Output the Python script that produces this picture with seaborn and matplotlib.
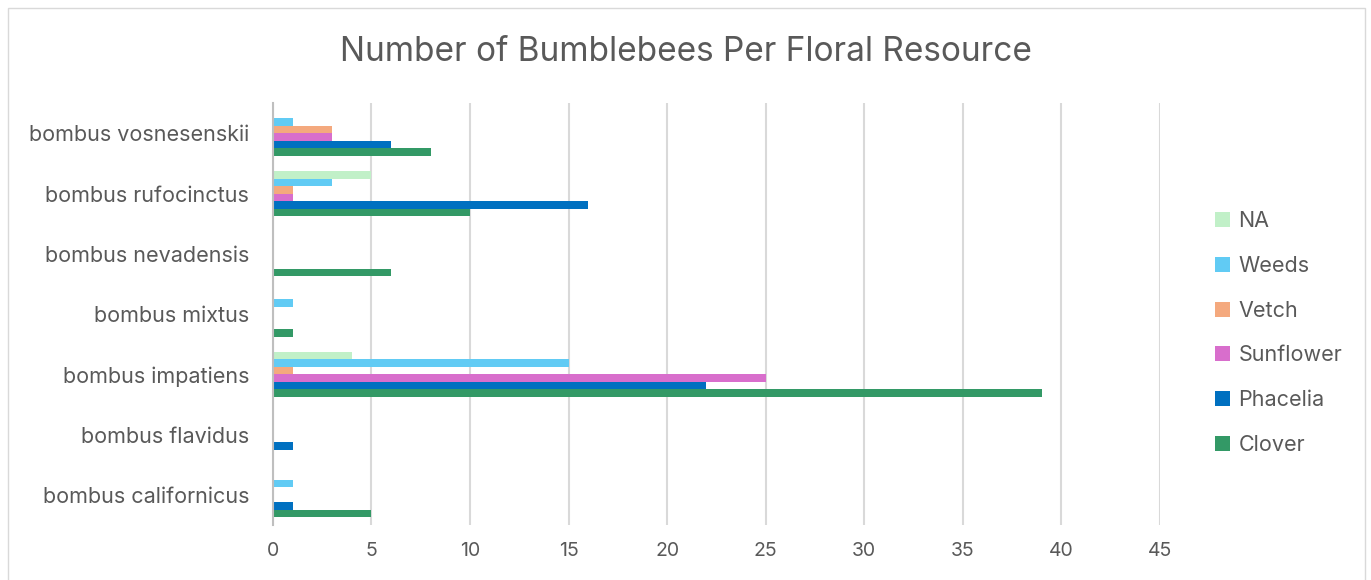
import numpy as np
import pandas as pd
import seaborn as sns
import matplotlib.pyplot as plt
from matplotlib.patches import Rectangle

# data (top category first)
species = ['bombus vosnesenskii', 'bombus rufocinctus', 'bombus nevadensis',
           'bombus mixtus', 'bombus impatiens', 'bombus flavidus',
           'bombus californicus']
clover = [8, 10, 6, 1, 39, 0, 5]
phacelia = [6, 16, 0, 0, 22, 1, 1]
sunflower = [3, 1, 0, 0, 25, 0, 0]
vetch = [3, 1, 0, 0, 1, 0, 0]
weeds = [1, 3, 0, 1, 15, 0, 1]
na = [0, 5, 0, 0, 4, 0, 0]

resources = ['NA', 'Weeds', 'Vetch', 'Sunflower', 'Phacelia', 'Clover']
colors = ['#C1F0C8', '#61CBF4', '#F4A97E', '#D86ECC', '#0070C0', '#339966']

values = {'NA': na, 'Weeds': weeds, 'Vetch': vetch, 'Sunflower': sunflower,
          'Phacelia': phacelia, 'Clover': clover}
rows = []
for r in resources:
    for s, v in zip(species, values[r]):
        rows.append({'species': s, 'resource': r, 'count': v})
df = pd.DataFrame(rows)

sns.set_style('white')
plt.rcParams['font.family'] = ['Inter', 'DejaVu Sans']
text_col = '#595959'

fig = plt.figure(figsize=(13.71, 5.8), dpi=100)
ax = fig.add_axes([0.199, 0.095, 0.647, 0.727])

sns.barplot(data=df, y='species', x='count', hue='resource', order=species,
            hue_order=resources, palette=colors, orient='h', width=0.75,
            saturation=1, linewidth=0, ax=ax)

ax.set_xlim(0, 45)
ax.set_xticks(np.arange(0, 50, 5))
ax.set_ylim(len(species) - 0.5, -0.5)
ax.grid(axis='x', color='#D9D9D9', linewidth=1.5)
ax.set_axisbelow(True)
for sp in ['top', 'right', 'bottom']:
    ax.spines[sp].set_visible(False)
ax.spines['left'].set_color('#BFBFBF')
ax.spines['left'].set_linewidth(1.5)
ax.set_xlabel('')
ax.set_ylabel('')
ax.tick_params(axis='x', length=0, labelsize=14, labelcolor=text_col, pad=12)
ax.tick_params(axis='y', which='major', length=0, labelsize=15.5,
               labelcolor=text_col, pad=17)
ax.set_yticks(np.arange(-0.5, len(species), 1), minor=True)
ax.tick_params(axis='y', which='minor', length=6, width=1.5, color='#BFBFBF')

fig.text(0.5, 1 - 52 / 580, 'Number of Bumblebees Per Floral Resource',
         fontsize=24, color=text_col, ha='center', va='center')

leg = ax.legend(loc='center left', bbox_to_anchor=(1.04, 0.455), frameon=False,
                fontsize=15.5, labelcolor=text_col, handlelength=0.7,
                handleheight=0.7, labelspacing=1.15, handletextpad=0.4)

fig.patches.append(Rectangle((8 / 1371, -0.01), 1357 / 1371, 1 - 8 / 580 + 0.01,
                             transform=fig.transFigure, fill=False,
                             edgecolor='#D9D9D9', linewidth=1))

fig.savefig('out.png', dpi=100)
